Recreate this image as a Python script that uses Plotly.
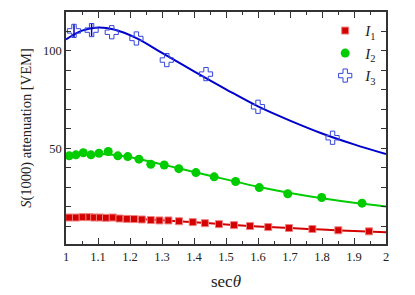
import plotly.graph_objects as go

# I1 (red squares)
i1_x = [1.010, 1.031, 1.052, 1.073, 1.088, 1.106, 1.125, 1.146, 1.167, 1.190, 1.2125, 1.237,
        1.265, 1.292, 1.320, 1.353, 1.396, 1.434, 1.478, 1.525, 1.575, 1.632, 1.697, 1.770,
        1.851, 1.947]
i1_y = [14.4, 14.4, 14.6, 14.6, 14.4, 14.4, 14.26, 14.4, 13.9, 13.7, 13.6, 13.4,
        13.1, 12.9, 12.9, 12.5, 12.05, 11.5, 11.0, 10.5, 10.0, 9.5, 9.0, 8.5,
        7.85, 7.3]
fit1_x = [1.0, 1.1, 1.2, 1.3, 1.4, 1.5, 1.6, 1.7, 1.8, 1.9, 2.0]
fit1_y = [14.5, 14.4, 13.9, 13.0, 12.0, 10.8, 9.8, 9.0, 8.2, 7.5, 6.9]

# I2 (green circles)
i2_x = [1.010, 1.031, 1.054, 1.078, 1.103, 1.132, 1.162, 1.193, 1.228, 1.265, 1.307,
        1.3525, 1.406, 1.463, 1.530, 1.604, 1.693, 1.799, 1.925]
i2_y = [46.1, 46.6, 47.7, 46.6, 47.4, 48.3, 46.1, 45.7, 44.4, 41.8, 41.4,
        39.5, 37.5, 35.3, 32.9, 29.8, 26.6, 24.7, 21.8]
fit2_x = [1.0, 1.1, 1.2, 1.3, 1.4, 1.5, 1.6, 1.7, 1.8, 1.9, 2.0]
fit2_y = [45.8, 47.0, 45.4, 41.7, 37.8, 34.0, 30.2, 27.0, 24.3, 22.0, 20.1]

# I3 (blue crosses)
i3_x = [1.025, 1.08, 1.143, 1.22, 1.315, 1.4375, 1.60, 1.833]
i3_y = [110.3, 110.7, 109.6, 106.4, 95.3, 88.1, 71.3, 55.4]
i3_err = [3.5, 3.2, 0, 0, 0, 0, 0, 0]
fit3_x = [1.0, 1.05, 1.1, 1.15, 1.22, 1.3, 1.4, 1.5, 1.6, 1.7, 1.8, 1.9, 2.0]
fit3_y = [105.9, 110.4, 112.0, 111.0, 106.6, 99.0, 89.5, 80.3, 71.5, 64.2, 57.6, 52.0, 47.0]

RED = "#d40000"
GREEN = "#00cc00"
BLUE = "#0000cc"
SERIF = "Liberation Serif, DejaVu Serif, serif"

fig = go.Figure()

fig.add_trace(go.Scatter(x=fit1_x, y=fit1_y, mode="lines", line=dict(color=RED, width=2, shape="spline"),
                         showlegend=False, hoverinfo="skip"))
fig.add_trace(go.Scatter(x=fit2_x, y=fit2_y, mode="lines", line=dict(color=GREEN, width=2, shape="spline"),
                         showlegend=False, hoverinfo="skip"))
fig.add_trace(go.Scatter(x=fit3_x, y=fit3_y, mode="lines", line=dict(color=BLUE, width=2, shape="spline"),
                         showlegend=False, hoverinfo="skip"))

fig.add_trace(go.Scatter(x=i1_x, y=i1_y, mode="markers", name="<i>I</i><sub>1</sub>",
                         marker=dict(symbol="square", size=7, color=RED,
                                     line=dict(color="#f08080", width=1))))
fig.add_trace(go.Scatter(x=i2_x, y=i2_y, mode="markers", name="<i>I</i><sub>2</sub>",
                         marker=dict(symbol="circle", size=9, color=GREEN, line=dict(width=0))))
fig.add_trace(go.Scatter(x=i3_x, y=i3_y, mode="markers", name="<i>I</i><sub>3</sub>",
                         error_y=dict(type="data", array=i3_err, color=BLUE, thickness=1.5, width=0),
                         marker=dict(symbol="cross-open", size=11, color="#3344dd",
                                     line=dict(color="#3344dd", width=1))))

axis_common = dict(showline=True, linecolor="#333333", linewidth=1.5, mirror="ticks",
                   ticks="inside", tickcolor="#333333", showgrid=False, zeroline=False,
                   automargin=False,
                   tickfont=dict(family=SERIF, size=12.5, color="#222222"))

fig.update_xaxes(range=[1, 2], ticklen=6, tickwidth=1,
                 tickvals=[1, 1.1, 1.2, 1.3, 1.4, 1.5, 1.6, 1.7, 1.8, 1.9, 2],
                 ticktext=["1", "1.1", "1.2", "1.3", "1.4", "1.5", "1.6", "1.7", "1.8", "1.9", "2"],
                 minor=dict(dtick=0.05, ticks="inside", ticklen=3, tickcolor="#333333"),
                 title=dict(text="sec<i>θ</i>", font=dict(family=SERIF, size=17, color="#222222"), standoff=12),
                 **axis_common)
fig.update_yaxes(range=[0.8, 120], tickvals=[50, 100], ticktext=["50", "100"], ticklen=5, tickwidth=1,
                 minor=dict(tickvals=[10, 20, 30, 40, 60, 70, 80, 90, 110], ticks="inside", ticklen=5,
                            tickcolor="#333333"),
                 title=dict(text="<i>S</i>(1000) attenuation [VEM]",
                            font=dict(family=SERIF, size=14.5, color="#222222"), standoff=8),
                 **axis_common)

fig.update_layout(width=415, height=295, margin=dict(l=58, r=37, t=4, b=59),
                  paper_bgcolor="white", plot_bgcolor="white",
                  legend=dict(x=0.81, y=0.99, xanchor="left", yanchor="top",
                              font=dict(family=SERIF, size=15, color="#222222"),
                              bgcolor="rgba(0,0,0,0)", tracegroupgap=0, itemwidth=30))

fig.write_html("out.html")
